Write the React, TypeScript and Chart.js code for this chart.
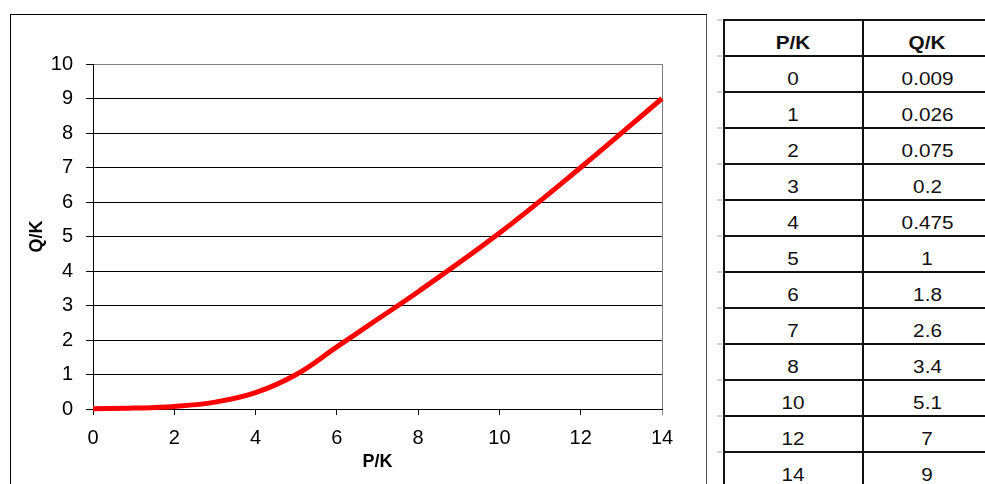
import React, { useEffect, useRef } from "react";
import { Chart, registerables } from "chart.js";

Chart.register(...registerables);

const pkValues = [0, 1, 2, 3, 4, 5, 6, 7, 8, 10, 12, 14];
const qkValues = [0.009, 0.026, 0.075, 0.2, 0.475, 1, 1.8, 2.6, 3.4, 5.1, 7, 9];
const pkLabels = ["0", "1", "2", "3", "4", "5", "6", "7", "8", "10", "12", "14"];
const qkLabels = ["0.009", "0.026", "0.075", "0.2", "0.475", "1", "1.8", "2.6", "3.4", "5.1", "7", "9"];
const xTitle = "P/K";
const yTitle = "Q/K";

const FONT = "'Liberation Sans', Arial, sans-serif";

function ChartPanel() {
  const ref = useRef<HTMLCanvasElement | null>(null);
  useEffect(() => {
    if (!ref.current) return;
    const chart = new Chart(ref.current, {
      type: "line",
      data: {
        datasets: [
          {
            data: pkValues.map((x, i) => ({ x, y: qkValues[i] })),
            borderColor: "#ff0000",
            borderWidth: 5,
            pointRadius: 0,
            tension: 0.4,
            clip: 10,
            fill: false,
          },
        ],
      },
      options: {
        responsive: false,
        animation: false,
        devicePixelRatio: 1,
        layout: { padding: { left: 26, top: 64, right: 48, bottom: 11 } },
        plugins: { legend: { display: false }, tooltip: { enabled: false } },
        scales: {
          x: {
            type: "linear",
            min: 0,
            max: 14,
            ticks: {
              stepSize: 2,
              color: "#000",
              font: { family: FONT, size: 20 },
              padding: 11,
              maxRotation: 0,
            },
            grid: {
              drawOnChartArea: true,
              color: (c: any) => (c.tick && c.tick.value === 14 ? "#808080" : "rgba(0,0,0,0)"),
              tickColor: (c: any) => (c.tick && c.tick.value === 14 ? "#808080" : "#000"),
              tickLength: 6,
              lineWidth: 1,
            },
            border: { color: "#000", width: 1 },
            title: {
              display: true,
              text: xTitle,
              color: "#000",
              font: { family: FONT, size: 18, weight: "bold" },
              padding: 0,
            },
            afterFit: (s: any) => {
              s.height = 64;
            },
          },
          y: {
            type: "linear",
            min: 0,
            max: 10,
            ticks: {
              stepSize: 1,
              color: "#000",
              font: { family: FONT, size: 20 },
              padding: 13,
            },
            grid: {
              color: (c: any) => (c.tick && c.tick.value === 10 ? "#808080" : "#000"),
              tickColor: "#000",
              tickLength: 7,
              lineWidth: 1,
            },
            border: { color: "#000", width: 1 },
            title: {
              display: true,
              text: yTitle,
              color: "#000",
              font: { family: FONT, size: 18, weight: "bold" },
              padding: 0,
            },
            afterFit: (s: any) => {
              s.width = 67;
            },
          },
        },
      },
    } as any);
    return () => chart.destroy();
  }, []);
  return (
    <canvas
      ref={ref}
      width={710}
      height={484}
      style={{ position: "absolute", left: 0, top: 0, width: 710, height: 484 }}
    />
  );
}

function Cell({ text, bold, width, borderRight }: { text: string; bold?: boolean; width: number; borderRight?: boolean }) {
  return (
    <div
      style={{
        width,
        boxSizing: "border-box",
        borderRight: borderRight ? "2px solid #111" : undefined,
        display: "flex",
        justifyContent: "center",
        alignItems: "center",
        paddingTop: 9,
      }}
    >
      <span
        style={{
          display: "inline-block",
          transform: "scaleX(1.15)",
          fontFamily: FONT,
          fontSize: 18,
          fontWeight: bold ? "bold" : "normal",
          color: "#111",
          lineHeight: "20px",
        }}
      >
        {text}
      </span>
    </div>
  );
}

function DataTable() {
  const rows = [[xTitle, yTitle, true], ...pkLabels.map((p, i) => [p, qkLabels[i], false])] as [string, string, boolean][];
  return (
    <div style={{ position: "absolute", left: 723, top: 19, width: 270 }}>
      {rows.map((r, i) => (
        <div
          key={i}
          style={{
            display: "flex",
            height: 38,
            boxSizing: "border-box",
            borderTop: "2px solid #111",
            borderBottom: "2px solid #111",
            borderLeft: "2px solid #111",
            marginTop: i === 0 ? 0 : -2,
          }}
        >
          <Cell text={r[0]} bold={r[2]} width={139} borderRight />
          <Cell text={r[1]} bold={r[2]} width={127} />
        </div>
      ))}
      {rows.map((_, i) => (
        <div
          key={"m" + i}
          style={{
            position: "absolute",
            left: -6,
            top: i * 36,
            width: 5,
            height: 2,
            background: "#c9d2e3",
          }}
        />
      ))}
    </div>
  );
}

export default function App() {
  return (
    <div
      style={{
        position: "fixed",
        left: 0,
        top: 0,
        width: 985,
        height: 484,
        overflow: "hidden",
        background: "#fff",
      }}
    >
      <div
        style={{
          position: "absolute",
          left: 10,
          top: 14,
          width: 695,
          height: 500,
          border: "1px solid #000",
          borderRightColor: "#555",
          boxSizing: "content-box",
        }}
      />
      <ChartPanel />
      <DataTable />
    </div>
  );
}
